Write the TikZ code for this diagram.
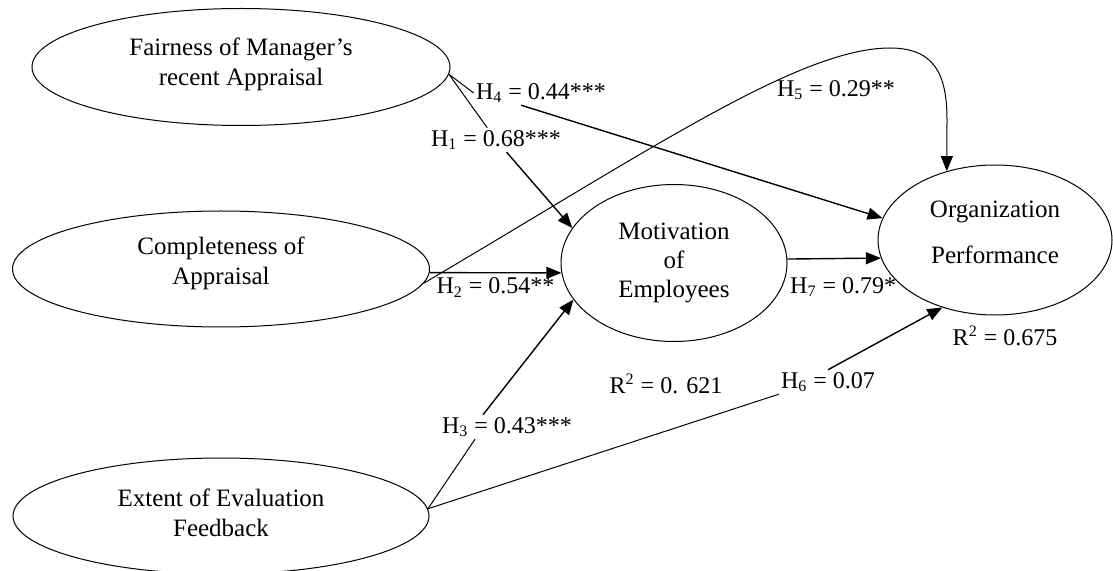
\documentclass[tikz,border=0pt]{standalone}
\usepackage{fontspec}
\setmainfont{Liberation Serif}
\usepackage{tikz}
\usetikzlibrary{
  shapes.geometric,
  arrows.meta,
  positioning, calc
}
\tikzset{
  basevar/.style={ellipse,draw=black,line width=0.5pt,inner sep=0pt,
    align=center,font=\fontsize{12.5}{15}\selectfont},
  extvar/.style={basevar,minimum width=209pt,minimum height=58.5pt},
  endvar/.style={basevar,minimum width=113pt,minimum height=78.5pt},
  hyplabel/.style={inner sep=1pt,font=\fontsize{12}{14}\selectfont},
  arrow/.style={-{Triangle[length=7.5pt,width=6pt]},line width=0.7pt,color=black},
  plainline/.style={line width=0.5pt,color=black}
}

\begin{document}
\begin{tikzpicture}[x=0.5pt,y=-0.5pt]
  \useasboundingbox (0,0) rectangle (1113,571);
  \node[extvar] (fair) at (241,67) {Fairness of Manager’s\\recent Appraisal\rule[-5.5pt]{0pt}{0pt}};
  \node[extvar,minimum width=208.5pt,minimum height=58pt] (compl) at (221,269) {Completeness of\\Appraisal\rule[-8pt]{0pt}{0pt}};
  \node[extvar,minimum width=208pt,minimum height=58pt] (feed) at (221,516) {Extent of Evaluation\\Feedback\rule[-3.5pt]{0pt}{0pt}};
  \node[endvar,font=\fontsize{12.5}{14.5}\selectfont] (motiv) at (674,263) {Motivation\\of\\Employees};
  \node[endvar,minimum width=117pt,minimum height=75pt,font=\fontsize{12.5}{23}\selectfont] (perf) at (995,240) {Organization\\Performance\rule[-8pt]{0pt}{0pt}};
  \node[hyplabel] (h1) at (496,140) {H\textsubscript{1} = 0.68***};
  \node[hyplabel] (h3) at (507,427) {H\textsubscript{3} = 0.43***};
  \node[hyplabel] (h4) at (541,93) {H\textsubscript{4} = 0.44***};
  \node[hyplabel] (h5) at (836,90) {H\textsubscript{5} = 0.29**};
  \node[hyplabel] (h6) at (828,382) {H\textsubscript{6} = 0.07};
  \draw[plainline] (fair.-2) -- (h1);
  \draw[arrow] (h1) -- (motiv.161);
  \draw[plainline] (fair.-2) -- (h4.west);
  \draw[arrow] ([xshift=-10pt]h4.south) -- (perf.169);
  \draw[arrow] (compl.-1) -- node[hyplabel,below=1pt] (h2) {H\textsubscript{2} = 0.54**} (motiv.185);
  \draw[plainline] (feed.2) -- ([xshift=-16pt]h3.south);
  \draw[arrow] ([xshift=-12pt]h3.north) -- (motiv.200);
  \draw[arrow] (motiv.2) -- node[hyplabel,below=8pt,xshift=4.5pt] (h7) {H\textsubscript{7} = 0.79*} (perf.189);
  \draw[arrow,line width=0.5pt] (compl.-4) .. controls (650,150) and (800,48) .. (890,48)
    .. controls (935,48) and (947,75) .. (947,120) -- (perf.125);
  \draw[plainline] (feed.2) -- (h6.south west);
  \draw[arrow] (h6.north) -- (perf.232);
  \node[hyplabel,below=15pt of motiv,xshift=-4pt] (r2m) {R\textsuperscript{2} = 0. 621};
  \node[hyplabel,below=4pt of perf,xshift=5pt] (r2p) {R\textsuperscript{2} = 0.675};
\end{tikzpicture}
\end{document}
